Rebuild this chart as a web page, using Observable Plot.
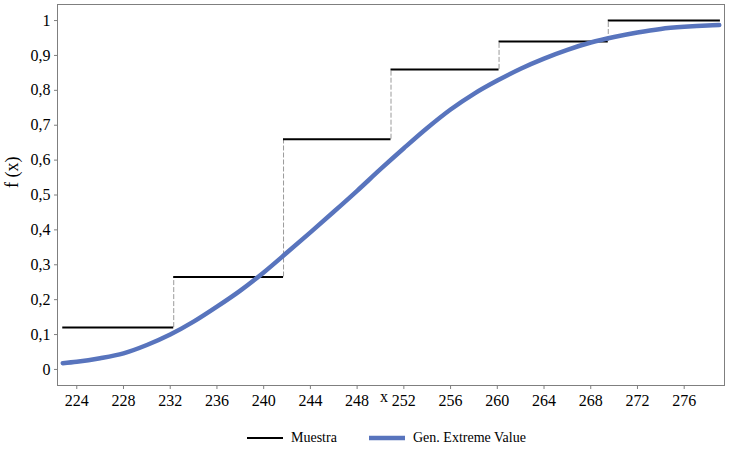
<!DOCTYPE html>
<html>
<head>
<meta charset="utf-8">
<script src="https://cdn.jsdelivr.net/npm/d3@7"></script>
<script src="https://cdn.jsdelivr.net/npm/@observablehq/plot@0.6"></script>
<style>
  body { margin: 0; background: #fff; font-family: "Liberation Serif", "Times New Roman", Times, serif; }
  #legend { position: relative; height: 33px; font-size: 14px; color: #000; }
  .item { position: absolute; top: 10px; display: flex; align-items: center; white-space: nowrap; }
  .item svg { margin-right: 8px; }
</style>
</head>
<body>
<div id="chart"></div>
<div id="legend"></div>
<script>
// Empirical step function ("Muestra")
const stepStart = [222.8, 232.3, 241.7, 250.9, 260.15, 269.5];
const stepEnd   = [232.3, 241.7, 250.9, 260.15, 269.5, 279.1];
const stepLevel = [0.12, 0.265, 0.66, 0.86, 0.94, 1.0];

// Fitted Generalized Extreme Value CDF
const gevX = [222.8, 224, 226, 228, 230, 232, 234, 236, 238, 240, 242, 244, 246, 248, 250, 252, 254, 256, 258, 260, 262, 264, 266, 268, 270, 272, 274, 276, 278, 279];
const gevY = [0.018, 0.022, 0.032, 0.046, 0.070, 0.100, 0.137, 0.180, 0.226, 0.278, 0.335, 0.393, 0.452, 0.512, 0.574, 0.634, 0.692, 0.745, 0.790, 0.828, 0.862, 0.891, 0.916, 0.937, 0.953, 0.966, 0.976, 0.982, 0.986, 0.987];

const xTicks = [224, 228, 232, 236, 240, 244, 248, 252, 256, 260, 264, 268, 272, 276];
const yTicks = [0, 0.1, 0.2, 0.3, 0.4, 0.5, 0.6, 0.7, 0.8, 0.9, 1];

const seriesNames = ["Muestra", "Gen. Extreme Value"];
const seriesColors = ["#000000", "#5874bd"];

const steps = stepLevel.map((v, i) => ({x1: stepStart[i], x2: stepEnd[i], y: v}));
const risers = stepLevel.slice(1).map((v, i) => ({x: stepStart[i + 1], y1: stepLevel[i], y2: v}));
const gev = gevX.map((x, i) => ({x, y: gevY[i]}));

const fmtY = d => String(+d.toFixed(1)).replace(".", ",");
const serif = "'Liberation Serif', 'Times New Roman', Times, serif";

const chart = Plot.plot({
  width: 738,
  height: 420,
  marginLeft: 57,
  marginRight: 14,
  marginTop: 4,
  marginBottom: 35,
  style: {fontFamily: serif, fontSize: "16px", color: "#000", background: "#fff"},
  x: {domain: [222.35, 279.45]},
  y: {domain: [-0.046, 1.046]},
  marks: [
    Plot.frame({stroke: "#7f7f7f", strokeWidth: 1}),
    Plot.axisX({ticks: xTicks, tickSize: 4, tickPadding: 5, stroke: "#7f7f7f", label: null, tickFormat: d => String(d), fill: "#000", fontSize: 16}),
    Plot.axisY({ticks: yTicks, tickSize: 3, tickPadding: 4, stroke: "#7f7f7f", label: null, tickFormat: fmtY, fill: "#000", fontSize: 16}),
    Plot.text(["x"], {x: 250.3, frameAnchor: "bottom", dy: 16, text: d => d, fontSize: 16}),
    Plot.text(["f (x)"], {frameAnchor: "left", dx: -45, dy: -7, rotate: -90, text: d => d, fontSize: 18}),
    Plot.ruleX(risers, {x: "x", y1: "y1", y2: "y2", stroke: "#9a9a9a", strokeWidth: 1, strokeDasharray: "5,2"}),
    Plot.ruleY(steps, {x1: "x1", x2: "x2", y: "y", stroke: seriesColors[0], strokeWidth: 2}),
    Plot.line(gev, {x: "x", y: "y", stroke: seriesColors[1], strokeWidth: 4.5, curve: "monotone-x"})
  ]
});
document.getElementById("chart").append(chart);

const legend = document.getElementById("legend");
const legendLeft = [247, 369];
seriesNames.forEach((name, i) => {
  const item = document.createElement("div");
  item.className = "item";
  item.style.left = legendLeft[i] + "px";
  item.innerHTML = `<svg width="36" height="8"><line x1="0" x2="36" y1="4" y2="4" stroke="${seriesColors[i]}" stroke-width="${i === 0 ? 2 : 4.5}"/></svg><span>${name}</span>`;
  legend.append(item);
});
</script>
</body>
</html>
